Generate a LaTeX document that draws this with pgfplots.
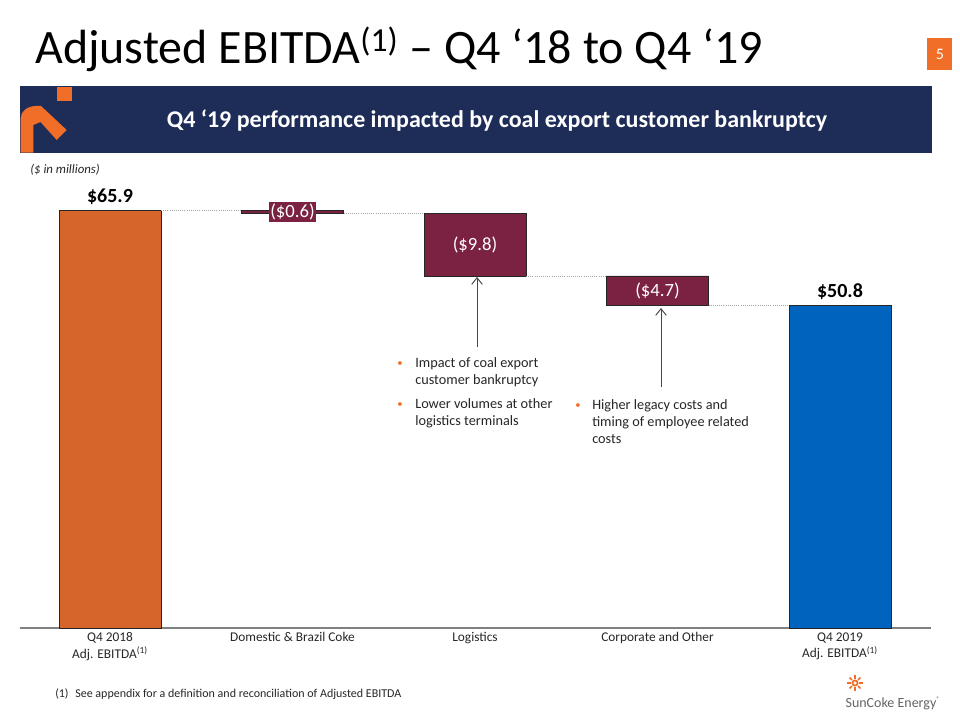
\documentclass[border=0pt]{standalone}
\usepackage{pgfplots}
\pgfplotsset{compat=1.18}
\usepackage{fontspec}
\setmainfont{Carlito}
\usetikzlibrary{arrows.meta}
\definecolor{barorange}{RGB}{214,101,44}
\definecolor{maroon}{RGB}{123,34,66}
\definecolor{barblue}{RGB}{0,99,190}
\definecolor{navy}{RGB}{30,44,88}
\definecolor{logoorange}{RGB}{240,110,40}
\definecolor{axisgray}{RGB}{128,128,128}
\definecolor{textdark}{RGB}{38,38,38}
\definecolor{arrowgray}{RGB}{70,70,70}
\definecolor{logogray}{RGB}{100,100,100}

\pgfplotsset{
  wfgeom/.style={
    at={(15pt,-471pt)}, anchor=south west,
    scale only axis, width=683.25pt, height=333pt,
    xmin=-0.4932, xmax=4.4986, ymin=0, ymax=70,
    enlargelimits=false, clip=false,
  }
}

\begin{document}
\begin{tikzpicture}[x=0.75pt,y=-0.75pt]
\path[use as bounding box] (0,0) rectangle (960,720);

% title
\node[anchor=base west, inner sep=0, text=black] at (35,64)
  {\fontsize{36}{40}\selectfont Adjusted EBITDA\textsuperscript{(1)} – Q4 ‘18 to Q4 ‘19};
% page number box
\fill[logoorange] (927,38) rectangle (952,70);
\node[text=white, inner sep=0] at (940,54) {\fontsize{12}{14}\selectfont 5};

% banner
\fill[navy] (20,86) rectangle (932,153);
\fill[logoorange] (56.7,86.7) rectangle (71.7,100.7);
\fill[logoorange] (20.7,152.7) -- (20.7,118) .. controls (20.7,111) and (28,106) .. (36,106)
  -- (41,106) -- (66.7,130) -- (56.7,140) -- (40.5,122) -- (33.3,125) -- (33.3,152.7) -- cycle;
\node[text=white, inner sep=0] at (497,121)
  {\bfseries\fontsize{18}{22}\selectfont Q4 ‘19 performance impacted by coal export customer bankruptcy};

% units note
\node[anchor=west, inner sep=0, text=textdark] at (30,170) {\itshape\fontsize{9.6}{12}\selectfont (\$ in millions)};

% floating bars (stacked)
\begin{axis}[wfgeom,
  ybar stacked, bar width=76.5pt,
  axis x line*=bottom, axis y line=none,
  x axis line style={draw=axisgray, line width=0.9pt, -},
  xtick={0,1,2,3,4},
  xticklabels={{Q4 2018\\Adj. EBITDA\textsuperscript{(1)}},{Domestic \& Brazil Coke},{Logistics},{Corporate and Other},{Q4 2019\\Adj. EBITDA\textsuperscript{(1)}}},
  major tick length=0pt,
  xticklabel style={align=center, font=\fontsize{10}{12.4}\selectfont, text=textdark},
]
\addplot[draw=none, fill=none] coordinates {(1,65.3) (2,55.5) (3,50.8)};
\addplot[fill=maroon, draw=black!85, line width=0.6pt] coordinates {(1,0.6) (2,9.8) (3,4.7)};
\end{axis}

% totals, connectors, labels
\begin{axis}[wfgeom, hide axis]
\addplot[ybar, bar width=76.5pt, bar shift=0pt, fill=barorange, draw=black!85, line width=0.6pt] coordinates {(0,65.9)};
\addplot[ybar, bar width=76.5pt, bar shift=0pt, fill=barblue, draw=black!85, line width=0.6pt] coordinates {(4,50.8)};
\addplot[densely dotted, gray!70, line width=0.6pt] coordinates {(0.2795,65.9) (0.7205,65.9)};
\addplot[densely dotted, gray!70, line width=0.6pt] coordinates {(1.2795,65.3) (1.7205,65.3)};
\addplot[densely dotted, gray!70, line width=0.6pt] coordinates {(2.2795,55.5) (2.7205,55.5)};
\addplot[densely dotted, gray!70, line width=0.6pt] coordinates {(3.2795,50.8) (3.7205,50.8)};
\node[inner sep=0, text=black] at (axis cs:0,67.95) {\bfseries\fontsize{15}{17}\selectfont \$65.9};
\node[inner sep=0, text=black] at (axis cs:4,52.97) {\bfseries\fontsize{15}{17}\selectfont \$50.8};
\node[fill=maroon, text=white, inner xsep=1pt, inner ysep=1.5pt] at (axis cs:1,65.6) {\fontsize{14}{16}\selectfont (\$0.6)};
\node[text=white, inner sep=0] at (axis cs:2,60.4) {\fontsize{14}{16}\selectfont (\$9.8)};
\node[text=white, inner sep=0] at (axis cs:3,53.15) {\fontsize{14}{16}\selectfont (\$4.7)};
\end{axis}

% annotation arrows
\draw[arrowgray, line width=0.7pt, -{Straight Barb[length=5pt,width=8pt]}] (477,347) -- (477,277);
\draw[arrowgray, line width=0.7pt, -{Straight Barb[length=5pt,width=8pt]}] (661,387) -- (661,308);

% bullets
\begin{scope}[every node/.style={anchor=base west, inner sep=0, text=textdark, font=\fontsize{10.7}{12.8}\selectfont}]
\node[text=logoorange] at (397,366) {\fontsize{8}{9}\selectfont\textbullet};
\node at (415,367) {Impact of coal export};
\node at (415,384) {customer bankruptcy};
\node[text=logoorange] at (397,407) {\fontsize{8}{9}\selectfont\textbullet};
\node at (415,408) {Lower volumes at other};
\node at (415,425) {logistics terminals};
\node[text=logoorange] at (575,408) {\fontsize{8}{9}\selectfont\textbullet};
\node at (592,409) {Higher legacy costs and};
\node at (592,426) {timing of employee related};
\node at (592,443) {costs};
\end{scope}

% footnote
\node[anchor=base west, inner sep=0, text=textdark] at (55,697)
  {\fontsize{9}{11}\selectfont (1)\hspace{5pt}See appendix for a definition and reconciliation of Adjusted EBITDA};

% logo
\draw[logoorange, line width=1.3pt] (855,683) circle (2.6);
\foreach \a in {0,45,...,315} \draw[logoorange, line width=1.3pt] (855,683) ++(\a:4.3) -- ++(\a:3.4);
\node[anchor=base, inner sep=0, text=logogray] at (893,707)
  {\fontsize{10.5}{12}\selectfont SunCoke Energy\textsuperscript{\tiny ®}};
\end{tikzpicture}
\end{document}
